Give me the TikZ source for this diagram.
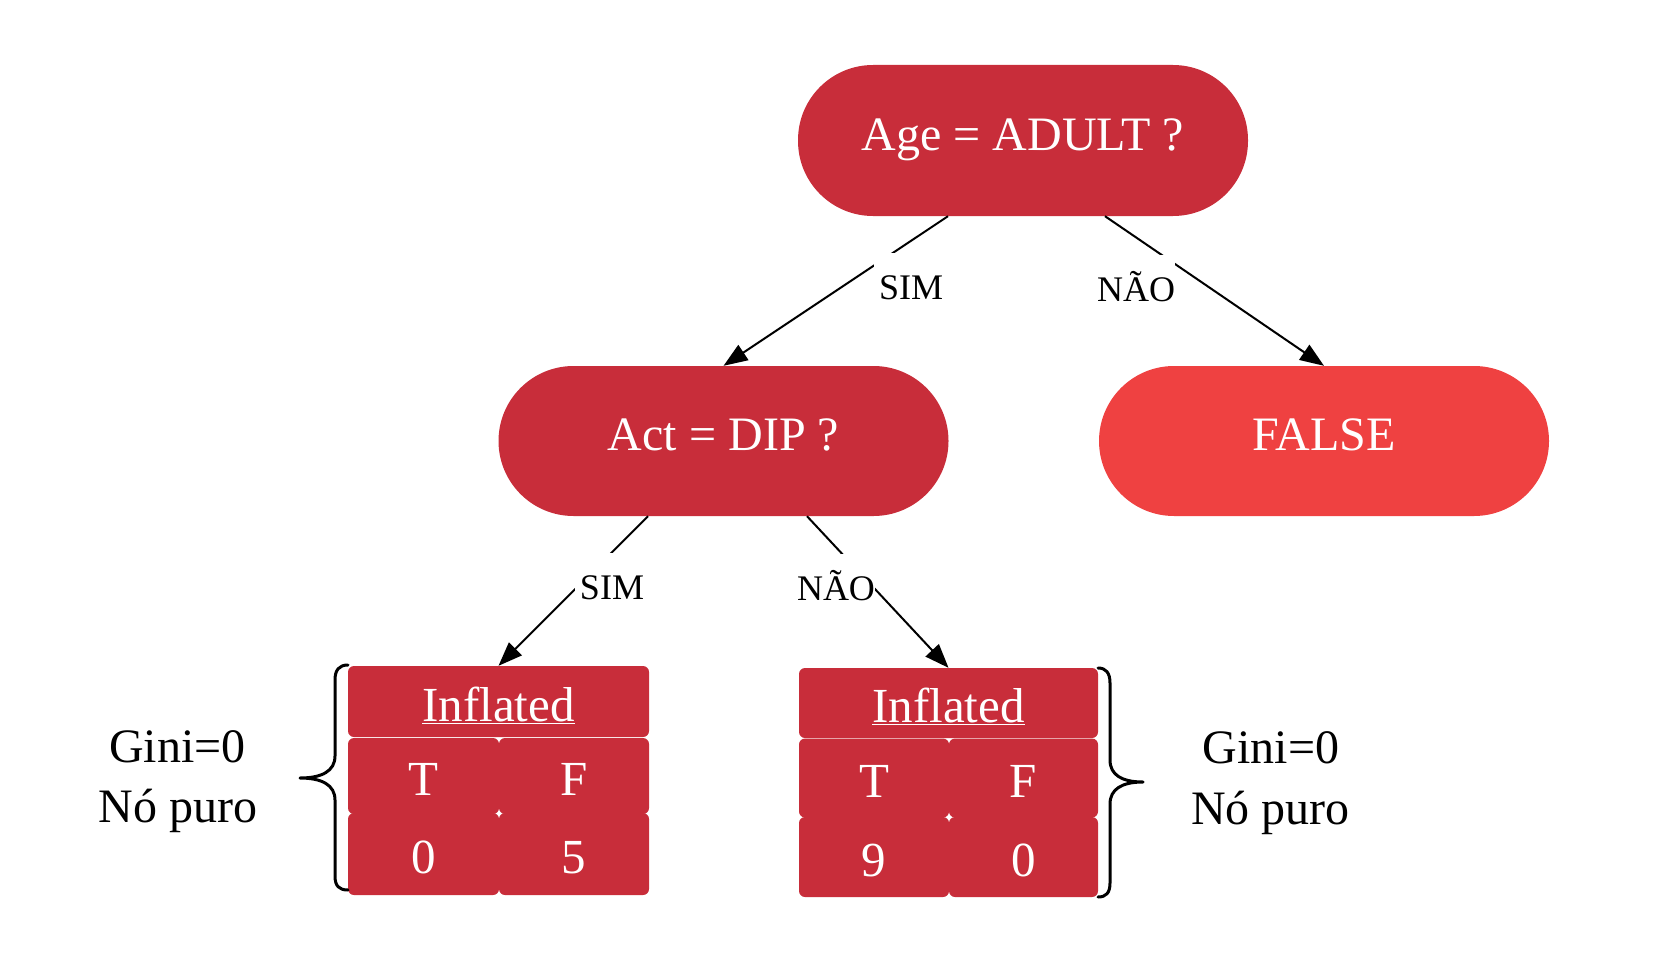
\documentclass[tikz,border=0pt]{standalone}
\usepackage{fontspec}
\setmainfont{Liberation Serif}
\usetikzlibrary{arrows.meta,calc}
\definecolor{dred}{RGB}{200,45,58}
\definecolor{lred}{RGB}{239,65,65}
\tikzset{
 decision/.style={fill=dred, text=white, rounded corners=75pt, minimum width=450pt, minimum height=151pt, inner sep=0pt, text height=33pt, text depth=14pt, font=\fontsize{48}{58}\selectfont},
 leafnode/.style={decision, fill=lred},
 cell/.style={fill=dred, text=white, rounded corners=6pt, inner sep=0pt, text height=39pt, text depth=0pt, font=\fontsize{49}{58}\selectfont},
 edge/.style={line width=2pt, -{Triangle[length=24pt,width=18pt]}},
 elabel/.style={fill=white, inner sep=0pt, minimum width=74pt, minimum height=68pt, text height=24pt, text depth=0pt, font=\fontsize{36}{40}\selectfont},
 bracestyle/.style={line width=3pt, line cap=round, line join=round},
 note/.style={font=\fontsize{48}{58}\selectfont, inner sep=0pt, anchor=base}
}
\begin{document}
\begin{tikzpicture}[x=1pt,y=-1pt]
\useasboundingbox (0,0) rectangle (1667,966);
% decision nodes
\node[decision] (top) at (1023,140.5) {Age = ADULT ?};
\node[decision, minimum height=150pt] (act) at (723.5,441) {Act = DIP ?};
\node[leafnode, minimum height=150pt] (false) at (1324,441) {FALSE};
% left table
\node[cell, minimum width=301pt, minimum height=71pt] (lhead) at (498.5,701.5) {\underline{Inflated}};
\node[cell, minimum width=151pt, minimum height=76pt] (lt) at (423.5,776) {T};
\node[cell, minimum width=150pt, minimum height=76pt] (lf) at (574,776) {F};
\node[cell, minimum width=151pt, minimum height=82pt] (l0) at (423.5,854) {0};
\node[cell, minimum width=150pt, minimum height=82pt] (l5) at (574,854) {5};
% right table
\node[cell, minimum width=299pt, minimum height=70pt] (rhead) at (948.5,703) {\underline{Inflated}};
\node[cell, minimum width=150pt, minimum height=79pt] (rt) at (874,778) {T};
\node[cell, minimum width=149pt, minimum height=79pt] (rf) at (1023.5,778) {F};
\node[cell, minimum width=150pt, minimum height=80pt] (r9) at (874,857) {9};
\node[cell, minimum width=149pt, minimum height=80pt] (r0) at (1023.5,857) {0};
% edges
\draw[edge] ($(top.south)+(-75,0)$) -- (act.north);
\draw[edge] ($(top.south)+(82,0)$) -- (false.north);
\draw[edge] ($(act.south)+(-75.5,0)$) -- (lhead.north);
\draw[edge] ($(act.south)+(83.5,0)$) -- (rhead.north);
% edge labels
\node[elabel] (s1) at (911,287) {SIM};
\node[elabel] (n1) at (1136,289) {NÃO};
\node[elabel] (s2) at (612,587) {SIM};
\node[elabel] (n2) at (836,588) {NÃO};
% braces
\draw[bracestyle] (348,665) .. controls (339,665) and (335,670) .. (335,680) -- (335,756)
  .. controls (335,771) and (322,778) .. (300,778)
  .. controls (322,778) and (335,785) .. (335,800) -- (335,876)
  .. controls (335,886) and (339,890) .. (348,890);
\draw[bracestyle] (1098,668) .. controls (1106,668) and (1110,673) .. (1110,683) -- (1110,760)
  .. controls (1110,775) and (1122,782) .. (1143,782)
  .. controls (1122,782) and (1110,789) .. (1110,804) -- (1110,883)
  .. controls (1110,893) and (1106,897) .. (1098,897);
% notes
\node[note] (g1a) at (177.5,762) {Gini=0};
\node[note] (g1b) at (178,822) {Nó puro};
\node[note] (g2a) at (1271,763) {Gini=0};
\node[note] (g2b) at (1270.5,824) {Nó puro};
\end{tikzpicture}
\end{document}
